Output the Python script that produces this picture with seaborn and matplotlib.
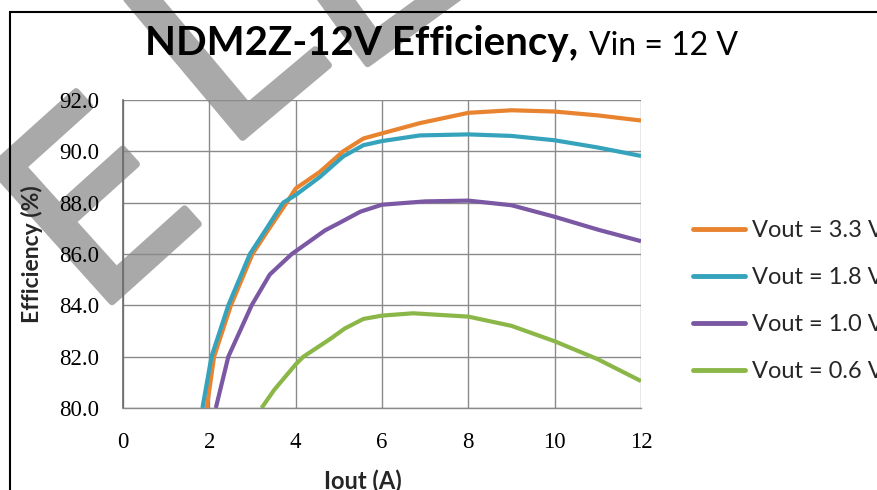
import matplotlib
matplotlib.use("Agg")
import matplotlib.pyplot as plt
from matplotlib.patches import Rectangle
from matplotlib.lines import Line2D
import matplotlib.patheffects as pe
import seaborn as sns
import pandas as pd

# ---- data ----
series_names = ["Vout = 3.3 V", "Vout = 1.8 V", "Vout = 1.0 V", "Vout = 0.6 V"]
iout_33 = [1.94, 2.11, 2.5, 3.0, 3.35, 3.79, 4.0, 4.56, 5.1, 5.57, 6.0, 6.88, 8.0, 9.0, 10.0, 11.0, 12.0]
eff_33 = [80.0, 82.0, 84.0, 86.0, 86.9, 88.0, 88.55, 89.2, 90.0, 90.5, 90.7, 91.1, 91.5, 91.6, 91.55, 91.4, 91.2]
iout_18 = [1.84, 2.05, 2.44, 2.94, 3.29, 3.71, 4.0, 4.56, 5.1, 5.57, 6.0, 6.88, 8.0, 9.0, 10.0, 11.0, 12.0]
eff_18 = [80.0, 82.0, 84.0, 86.0, 86.9, 88.0, 88.3, 89.0, 89.8, 90.24, 90.4, 90.62, 90.66, 90.6, 90.43, 90.15, 89.82]
iout_10 = [2.15, 2.44, 2.98, 3.4, 3.91, 4.68, 5.0, 5.5, 6.0, 7.0, 8.0, 9.0, 10.0, 11.0, 12.0]
eff_10 = [80.0, 82.0, 84.0, 85.2, 86.0, 86.92, 87.2, 87.65, 87.92, 88.05, 88.08, 87.9, 87.45, 86.95, 86.5]
iout_06 = [3.21, 3.5, 4.0, 4.18, 4.8, 5.14, 5.57, 6.0, 6.72, 8.0, 9.0, 10.0, 11.0, 12.0]
eff_06 = [80.0, 80.7, 81.7, 82.0, 82.69, 83.1, 83.47, 83.6, 83.69, 83.56, 83.2, 82.6, 81.9, 81.05]
x_ticks = [0, 2, 4, 6, 8, 10, 12]
y_ticks = [80, 82, 84, 86, 88, 90, 92]
title_main = "NDM2Z-12V Efficiency,"
title_sub = "Vin = 12 V"
x_label = "Iout (A)"
y_label = "Efficiency (%)"
watermark_letters = ["E", "L", "L"]

colors = ["#E8832F", "#35A3BC", "#7B58A3", "#8BB748"]

frames = []
for name, xs, ys in zip(series_names, [iout_33, iout_18, iout_10, iout_06],
                        [eff_33, eff_18, eff_10, eff_06]):
    frames.append(pd.DataFrame({"Iout": xs, "Eff": ys, "Series": name}))
df = pd.concat(frames, ignore_index=True)

sns.set_theme(style="white")
plt.rcParams["font.family"] = ["Lato", "DejaVu Sans"]

W, H = 878, 490
fig = plt.figure(figsize=(W / 100, H / 100), dpi=100)
fig.patch.set_facecolor("white")

# watermark (behind everything)
wm_pos = [(94, 318), (224, 153), (348, 78)]
wm_rot = [42, 40, 36]
for ch, (px, py), rot in zip(watermark_letters, wm_pos, wm_rot):
    fig.text(px / W, 1 - py / H, ch, rotation=rot, rotation_mode="anchor",
             ha="left", va="baseline", fontsize=178, color="#a9a9a9",
             family="DejaVu Sans", zorder=-5,
             path_effects=[pe.withStroke(linewidth=5, foreground="#a9a9a9")])

ax = fig.add_axes([123 / W, 1 - 408 / H, (641 - 123) / W, (408 - 100) / H])
ax.set_facecolor("none")

sns.lineplot(data=df, x="Iout", y="Eff", hue="Series", palette=colors,
             hue_order=series_names, linewidth=3, ax=ax, legend=False,
             sort=False, estimator=None)
for ln in ax.get_lines():
    ln.set_solid_joinstyle("round")
    ln.set_solid_capstyle("butt")

ax.set_xlim(0, 12)
ax.set_ylim(80, 92)
ax.set_xticks(x_ticks)
ax.set_yticks(y_ticks)
ax.set_yticklabels([f"{v:.1f}" for v in y_ticks])
ax.grid(True, color="#8a8a8a", linewidth=1)
ax.set_axisbelow(True)
for s in ["top", "right"]:
    ax.spines[s].set_visible(False)
ax.spines["left"].set_color("#6a6a6a")
ax.spines["bottom"].set_color("#8a8a8a")
ax.spines["left"].set_linewidth(1.2)
ax.spines["bottom"].set_linewidth(1)
ax.tick_params(axis="both", which="major", direction="out", color="#8a8a8a",
               length=7, width=1, labelsize=16.5, labelcolor="black")
ax.tick_params(axis="y", pad=10)
ax.tick_params(axis="x", pad=10)
for lab in ax.get_xticklabels() + ax.get_yticklabels():
    lab.set_family("Liberation Serif")

ax.set_xlabel(x_label, fontsize=17, fontweight="bold", family="Lato")
ax.set_ylabel(y_label, fontsize=16.5, fontweight="bold", family="Lato")
ax.xaxis.set_label_coords(0.463, -0.20)
ax.xaxis.label.set_va("top")
ax.yaxis.set_label_coords(-0.176, 0.5)
ax.yaxis.label.set_va("center")

# legend
handles = [Line2D([], [], color=c, linewidth=3.5) for c in colors]
leg = ax.legend(handles, series_names, loc="upper left",
                bbox_to_anchor=(693 / W, 1 - 220 / H), bbox_transform=fig.transFigure,
                frameon=False, fontsize=17, handlelength=2.2, handletextpad=0.3,
                labelspacing=1.1, borderaxespad=0, borderpad=0)
for t in leg.get_texts():
    t.set_family("Lato")

# title
t1 = fig.text(145 / W, 1 - 55 / H, title_main, fontsize=29, fontweight="bold",
              family="Lato", ha="left", va="baseline", color="black")
fig.canvas.draw()
bb = t1.get_window_extent()
fig.text((bb.x1 + 11) / W, 1 - 55 / H, title_sub, fontsize=23,
         family="Lato", ha="left", va="baseline", color="black")

# outer chart frame
fig.add_artist(Rectangle((10 / W, -0.1), 1.2, (H - 12) / H + 0.1,
                         transform=fig.transFigure, fill=False,
                         edgecolor="black", linewidth=1.5, zorder=10))

fig.savefig("out.png", dpi=100)
